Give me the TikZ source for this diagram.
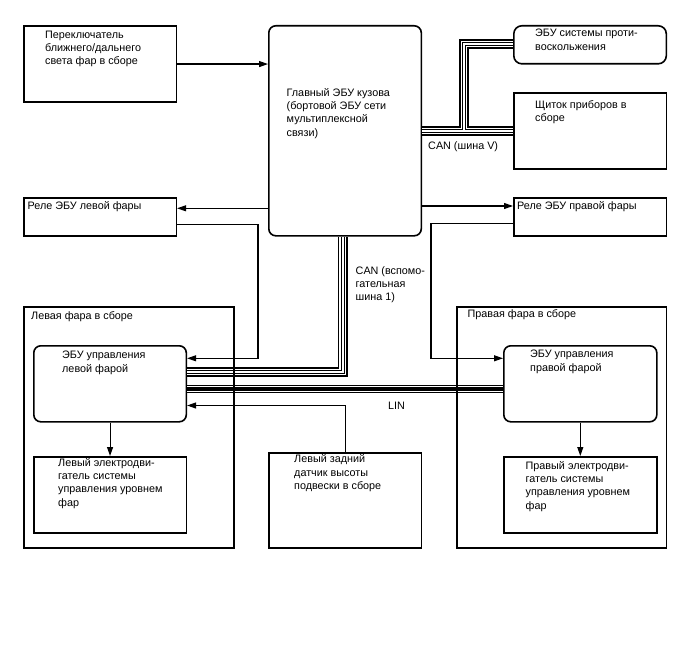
\documentclass[tikz,border=0pt]{standalone}
\usepackage{fontspec}
\setmainfont{Liberation Sans}
\usetikzlibrary{arrows.meta}
\begin{document}
\begin{tikzpicture}[x=1pt,y=-1pt,
  box/.style={draw, line width=1.6pt, inner sep=0pt, anchor=north west},
  rbox/.style={box, rounded corners=7pt},
  txt/.style={anchor=north west, inner sep=0pt, align=left, font=\fontsize{10.8}{13.3}\selectfont},
  arr/.style={line width=1.1pt, -{Triangle[length=9pt,width=6pt]}},
  canbus/.style={draw=black, line width=4pt,
    preaction={draw=black,line width=10pt},
    preaction={draw=white,line width=6.2pt},
    postaction={draw=white,line width=2pt}},
  linbus/.style={draw=black, line width=3.6pt,
    preaction={draw=black,line width=8.6pt},
    preaction={draw=white,line width=6pt}}
]
\useasboundingbox (0,0) rectangle (688,658);

% boxes
\node[box, minimum width=152.5pt, minimum height=76.5pt] (sw) at (23,25) {};
\node[rbox, minimum width=152.5pt, minimum height=210pt] (main) at (268,25) {};
\node[rbox, rounded corners=8pt, minimum width=152.5pt, minimum height=38pt] (abs) at (513,25) {};
\node[box, minimum width=152.5pt, minimum height=76pt] (ic) at (513,92) {};
\node[box, minimum width=152.5pt, minimum height=38pt] (lrel) at (23,197) {};
\node[box, minimum width=152.5pt, minimum height=38pt] (rrel) at (513,197) {};
\node[rbox, minimum width=152.5pt, minimum height=76pt] (lecu) at (33,345) {};
\node[rbox, minimum width=153pt, minimum height=76pt] (recu) at (503,345) {};
\node[box, minimum width=152.5pt, minimum height=76pt] (lmot) at (33,456) {};
\node[box, minimum width=153pt, minimum height=76pt] (rmot) at (503,456) {};
\node[box, minimum width=152.5pt, minimum height=95pt] (sens) at (268,452) {};

% texts
\node[txt] (swT) at (45,30.5) {Переключатель\\ближнего/дальнего\\света фар в сборе};
\node[txt] (mainT) at (286.5,88) {Главный ЭБУ кузова\\(бортовой ЭБУ сети\\мультиплексной\\связи)};
\node[txt] (absT) at (535,29) {ЭБУ системы проти-\\воскольжения};
\node[txt] (icT) at (535,100) {Щиток приборов в\\сборе};
\node[txt] (canVT) at (428,141.5) {CAN (шина V)};
\node[txt] (lrelT) at (27.5,201) {Реле ЭБУ левой фары};
\node[txt] (rrelT) at (517,201) {Реле ЭБУ правой фары};
\node[txt] (canST) at (355.5,266) {CAN (вспомо-\\гательная\\шина 1)};
\node[txt] (llaT) at (31,311.5) {Левая фара в сборе};
\node[txt] (rlaT) at (467.5,309.5) {Правая фара в сборе};
\node[txt] (lecuT) at (62,351) {ЭБУ управления\\левой фарой};
\node[txt] (recuT) at (530,350) {ЭБУ управления\\правой фарой};
\node[txt] (linT) at (388,401.5) {LIN};
\node[txt] (lmotT) at (58,458) {Левый электродви-\\гатель системы\\управления уровнем\\фар};
\node[txt] (rmotT) at (525.5,461) {Правый электродви-\\гатель системы\\управления уровнем\\фар};
\node[txt] (sensT) at (294,454.5) {Левый задний\\датчик высоты\\подвески в сборе};

% helper coordinates
\coordinate (yA) at (0,208.3);
\coordinate (yB) at (0,224.3);
\coordinate (xB) at (258,0);
\coordinate (yC) at (0,358.3);
\coordinate (yD) at (0,206);
\coordinate (yE) at (0,223.3);
\coordinate (xE) at (431,0);
\coordinate (yF) at (0,405.5);
\coordinate (cvj) at (464,131);
\coordinate (cvt) at (464,44);
\coordinate (csc) at (342.5,372);
\coordinate (liny) at (0,389);

% buses
\draw[canbus] (main.east |- cvj) -- (ic.west |- cvj) (cvj) -- (cvt) -- (abs.west |- cvt);
\draw[canbus] (main.south -| csc) -- (csc) -- (lecu.east |- csc);
\draw[linbus] (lecu.east |- liny) -- (recu.west |- liny);

% arrows
\draw[arr] (sw.east) -- (sw.east -| main.west);
\draw[arr] (main.west |- yA) -- (lrel.east |- yA);
\draw[arr] (lrel.east |- yB) -| (xB |- yC) -- (lecu.east |- yC);
\draw[arr] (main.east |- yD) -- (rrel.west |- yD);
\draw[arr] (rrel.west |- yE) -| (xE |- yC) -- (recu.west |- yC);
\draw[arr] (sens.north) |- (lecu.east |- yF);
\draw[arr] (lecu.south) -- (lmot.north);
\draw[arr] (recu.south) -- (rmot.north);

% headlamp assemblies
\node[box, minimum width=210pt, minimum height=241pt] (lla) at (23,306) {};
\node[box, minimum width=209.5pt, minimum height=241pt] (rla) at (456,306) {};
\end{tikzpicture}
\end{document}
